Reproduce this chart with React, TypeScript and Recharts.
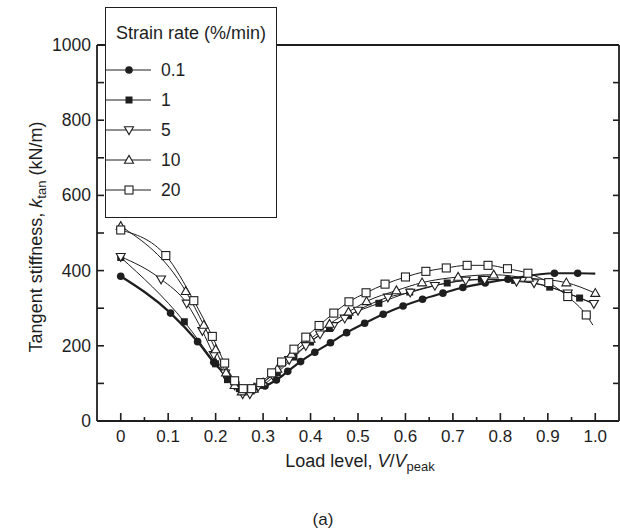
import React from "react";
import { LineChart, Line, XAxis, YAxis } from "recharts";

// strain rate series: load level V/Vpeak vs tangent stiffness (kN/m)
const rate01Load = [0, 0.105, 0.162, 0.196, 0.223, 0.243, 0.27, 0.304, 0.328, 0.352, 0.379, 0.409, 0.442, 0.476, 0.514, 0.553, 0.595, 0.636, 0.679, 0.721, 0.768, 0.816, 0.914, 0.963, 1.0];
const rate01K = [385, 287, 211, 156, 120, 96, 84, 93, 109, 132, 158, 183, 208, 235, 260, 284, 306, 324, 340, 355, 367, 377, 393, 393, 392];

const rate1Load = [0, 0.134, 0.2, 0.225, 0.25, 0.275, 0.3, 0.33, 0.365, 0.4, 0.44, 0.48, 0.544, 0.609, 0.688, 0.76, 0.83, 0.904, 0.967, 1.0];
const rate1K = [435, 264, 152, 110, 86, 80, 95, 128, 170, 210, 246, 280, 313, 343, 367, 377, 374, 356, 327, 310];

const rate5Load = [0, 0.085, 0.139, 0.172, 0.196, 0.22, 0.24, 0.257, 0.272, 0.29, 0.32, 0.355, 0.39, 0.42, 0.448, 0.472, 0.5, 0.563, 0.61, 0.662, 0.727, 0.767, 0.834, 0.871, 0.942, 0.997];
const rate5K = [437, 377, 313, 240, 176, 127, 95, 72, 72, 92, 122, 163, 200, 231, 253, 273, 294, 329, 342, 360, 374, 376, 371, 367, 340, 312];

const rate10Load = [0, 0.137, 0.175, 0.2, 0.222, 0.24, 0.255, 0.28, 0.3, 0.33, 0.36, 0.4, 0.44, 0.48, 0.518, 0.581, 0.635, 0.711, 0.786, 0.86, 0.939, 1.0];
const rate10K = [518, 345, 255, 190, 128, 95, 78, 85, 102, 138, 178, 218, 258, 290, 318, 347, 368, 383, 389, 380, 368, 340];

const rate20Load = [0, 0.095, 0.154, 0.193, 0.219, 0.24, 0.258, 0.276, 0.295, 0.318, 0.339, 0.365, 0.39, 0.418, 0.449, 0.481, 0.517, 0.557, 0.6, 0.643, 0.686, 0.73, 0.774, 0.815, 0.858, 0.902, 0.942, 0.981, 0.995];
const rate20K = [508, 440, 320, 225, 154, 107, 86, 86, 102, 128, 157, 191, 223, 254, 287, 317, 341, 364, 383, 398, 407, 414, 414, 405, 393, 368, 331, 282, 255];

const rateNames = ["0.1", "1", "5", "10", "20"];

const xMajorTicks = [0, 0.1, 0.2, 0.3, 0.4, 0.5, 0.6, 0.7, 0.8, 0.9, 1.0];
const xMinorTicks = [0.05, 0.15, 0.25, 0.35, 0.45, 0.55, 0.65, 0.75, 0.85, 0.95];
const xTickLabels = ["0", "0.1", "0.2", "0.3", "0.4", "0.5", "0.6", "0.7", "0.8", "0.9", "1.0"];
const yTicks = [0, 100, 200, 300, 400, 500, 600, 700, 800, 900, 1000];
const yLabelTicks = [0, 200, 400, 600, 800, 1000];

const INK = "#1e1e1e";
const FONT = "'Liberation Sans', Arial, sans-serif";

const zip = (xs: number[], ys: number[]) => xs.map((x, i) => ({ x, k: ys[i] }));

const series = [
  { name: rateNames[0], data: zip(rate01Load, rate01K), shape: "circle", width: 2.2, skipLast: true },
  { name: rateNames[1], data: zip(rate1Load, rate1K), shape: "square", width: 1, skipLast: true },
  { name: rateNames[2], data: zip(rate5Load, rate5K), shape: "down", width: 1, skipLast: false },
  { name: rateNames[3], data: zip(rate10Load, rate10K), shape: "up", width: 1, skipLast: false },
  { name: rateNames[4], data: zip(rate20Load, rate20K), shape: "open", width: 1, skipLast: true },
];

function marker(shape: string, cx: number, cy: number, key?: string | number) {
  if (shape === "circle") return <circle key={key} cx={cx} cy={cy} r={3.8} fill={INK} />;
  if (shape === "square") return <rect key={key} x={cx - 3.5} y={cy - 3.5} width={7} height={7} fill={INK} />;
  if (shape === "down")
    return (
      <polygon key={key} points={`${cx - 4.5},${cy - 3.2} ${cx + 4.5},${cy - 3.2} ${cx},${cy + 4.6}`}
        fill="#fff" stroke={INK} strokeWidth={1.1} />
    );
  if (shape === "up")
    return (
      <polygon key={key} points={`${cx - 4.5},${cy + 3.2} ${cx + 4.5},${cy + 3.2} ${cx},${cy - 4.6}`}
        fill="#fff" stroke={INK} strokeWidth={1.1} />
    );
  return <rect key={key} x={cx - 4} y={cy - 4} width={8} height={8} fill="#fff" stroke={INK} strokeWidth={1.1} />;
}

function XTick(props: any) {
  const { x, y, payload } = props;
  const i = xMajorTicks.findIndex((t) => Math.abs(t - payload.value) < 1e-6);
  const major = i >= 0;
  return (
    <g>
      <line x1={x} x2={x} y1={y} y2={y - (major ? 8 : 4)} stroke={INK} strokeWidth={1.6} />
      {major && (
        <text x={x} y={y + 21} textAnchor="middle" fontSize={17} fontFamily={FONT} fill={INK}>
          {xTickLabels[i]}
        </text>
      )}
    </g>
  );
}

function YTick(props: any) {
  const { x, y, payload } = props;
  const show = yLabelTicks.includes(payload.value);
  return (
    <g>
      <line x1={x} x2={x + 7} y1={y} y2={y} stroke={INK} strokeWidth={1.6} />
      {show && (
        <text x={x - 6} y={y + 6} textAnchor="end" fontSize={17.5} fontFamily={FONT} fill={INK}>
          {payload.value}
        </text>
      )}
    </g>
  );
}

function RightTick(props: any) {
  const { x, y } = props;
  return <line x1={x} x2={x - 6} y1={y} y2={y} stroke={INK} strokeWidth={1.6} />;
}

function StrainLegend() {
  return (
    <div
      style={{
        position: "absolute",
        left: 105,
        top: 7,
        width: 170,
        height: 209,
        border: `1.5px solid ${INK}`,
        background: "#fff",
        fontFamily: FONT,
        color: INK,
      }}
    >
      <svg width={170} height={209} style={{ position: "absolute", left: 0, top: 0 }}>
        <text x={85} y={31} textAnchor="middle" fontSize={18} fontFamily={FONT} fill={INK}>
          Strain rate (%/min)
        </text>
        {series.map((s, i) => {
          const cy = 62 + i * 30;
          return (
            <g key={s.name}>
              <line x1={0} x2={45} y1={cy} y2={cy} stroke={INK} strokeWidth={1} />
              {marker(s.shape, 23, cy)}
              <text x={55} y={cy + 6} fontSize={17.5} fontFamily={FONT} fill={INK}>
                {s.name}
              </text>
            </g>
          );
        })}
      </svg>
    </div>
  );
}

export default function App() {
  return (
    <div style={{ position: "absolute", left: 0, top: 0, width: 620, height: 531, background: "#fff" }}>
      <LineChart width={620} height={531} margin={{ top: 44, right: 0, bottom: 109, left: 96 }}>
        <XAxis
          type="number"
          dataKey="x"
          domain={[-0.05, 1.05]}
          ticks={[...xMajorTicks, ...xMinorTicks].sort((a, b) => a - b)}
          interval={0}
          height={1}
          tickSize={0}
          tickMargin={0}
          tick={<XTick />}
          axisLine={{ stroke: INK, strokeWidth: 1.8 }}
          allowDataOverflow
        />
        <XAxis
          xAxisId="top"
          orientation="top"
          type="number"
          domain={[-0.05, 1.05]}
          height={1}
          tick={false}
          tickLine={false}
          axisLine={{ stroke: INK, strokeWidth: 1.8 }}
          allowDataOverflow
        />
        <YAxis
          type="number"
          domain={[0, 1000]}
          ticks={yTicks}
          interval={0}
          width={1}
          tickSize={0}
          tickMargin={0}
          tick={<YTick />}
          axisLine={{ stroke: INK, strokeWidth: 1.8 }}
          allowDataOverflow
        />
        <YAxis
          yAxisId="right"
          orientation="right"
          type="number"
          domain={[0, 1000]}
          ticks={yTicks}
          interval={0}
          width={1}
          tickSize={0}
          tickMargin={0}
          tick={<RightTick />}
          axisLine={{ stroke: INK, strokeWidth: 1.8 }}
          allowDataOverflow
        />
        {series.map((s) => (
          <Line
            key={s.name}
            data={s.data}
            dataKey="k"
            type="monotone"
            stroke={INK}
            strokeWidth={s.width}
            isAnimationActive={false}
            dot={(p: any) =>
              s.skipLast && p.index === s.data.length - 1 ? <g key={p.index} /> : marker(s.shape, p.cx, p.cy, p.index)
            }
            activeDot={false}
          />
        ))}
      </LineChart>
      <StrainLegend />
      <svg width={620} height={531} style={{ position: "absolute", left: 0, top: 0, pointerEvents: "none" }}>
        <text transform="translate(42,237) rotate(-90)" textAnchor="middle" fontSize={18} fontFamily={FONT} fill={INK}>
          Tangent stiffness, <tspan fontStyle="italic">k</tspan>
          <tspan fontSize={13} dy={4}>tan</tspan>
          <tspan dy={-4}> (kN/m)</tspan>
        </text>
        <text x={360} y={467} textAnchor="middle" fontSize={18} fontFamily={FONT} fill={INK}>
          Load level, <tspan fontStyle="italic">V</tspan>/<tspan fontStyle="italic">V</tspan>
          <tspan fontSize={13} dy={4}>peak</tspan>
        </text>
        <text x={323} y={525} textAnchor="middle" fontSize={17} fontFamily={FONT} fill={INK}>
          (a)
        </text>
      </svg>
    </div>
  );
}
